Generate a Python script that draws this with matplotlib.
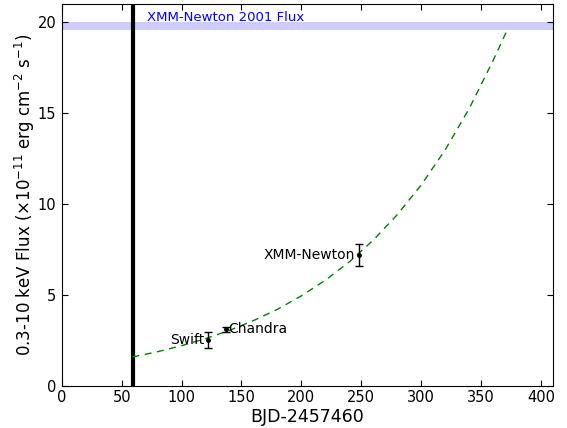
import matplotlib.pyplot as plt
import numpy as np

# observations
names = ["Swift", "Chandra", "XMM-Newton"]
t_obs = [122, 137, 248]
flux = [2.53, 3.12, 7.2]
flux_err = [0.45, 0.15, 0.6]

# model curve (exponential rise), sampled
t_fit = [59, 80, 100, 120, 140, 160, 180, 200, 220, 240, 260, 280, 300, 320, 340, 360, 372]
f_fit = [1.60, 1.89, 2.22, 2.61, 3.06, 3.60, 4.22, 4.96, 5.82, 6.83, 8.02, 9.42, 11.05, 12.98, 15.24, 17.89, 19.60]

t_event = 59.5
xmm2001_lo, xmm2001_hi = 19.6, 20.05

fig = plt.figure(figsize=(5.67, 4.28), dpi=100)
ax = fig.add_axes([0.109, 0.098, 0.866, 0.892])

ax.axhspan(xmm2001_lo, xmm2001_hi, color='blue', alpha=0.2, lw=0)
ax.text(71, 20.27, "XMM-Newton 2001 Flux", color='blue', fontsize=9.5, va='center')
ax.axvline(t_event, color='k', lw=3)

ax.plot(t_fit, f_fit, '--', color='green', lw=1, dashes=(5, 4))
ax.errorbar(t_obs, flux, yerr=flux_err, fmt='.', color='k', ms=5,
            capsize=3, elinewidth=1)

ax.text(t_obs[0] - 3, flux[0], names[0], ha='right', va='center', fontsize=10)
ax.text(t_obs[1] + 2, flux[1], names[1], ha='left', va='center', fontsize=10)
ax.text(t_obs[2] - 3, flux[2], names[2], ha='right', va='center', fontsize=10)

ax.set_xlim(0, 410)
ax.set_ylim(0, 21)
ax.set_xticks(np.arange(0, 401, 50))
ax.set_yticks(np.arange(0, 21, 5))
ax.tick_params(direction='in', top=True, right=True, labelsize=10.5, length=4)
ax.tick_params(axis='x', pad=3)
ax.tick_params(axis='y', pad=4)
ax.set_xlabel("BJD-2457460", fontsize=12.5, labelpad=2)
ax.set_ylabel(r"0.3-10 keV Flux ($\times 10^{-11}$ erg cm$^{-2}$ s$^{-1}$)", fontsize=12, labelpad=0)

fig.savefig("out.png", dpi=100)
